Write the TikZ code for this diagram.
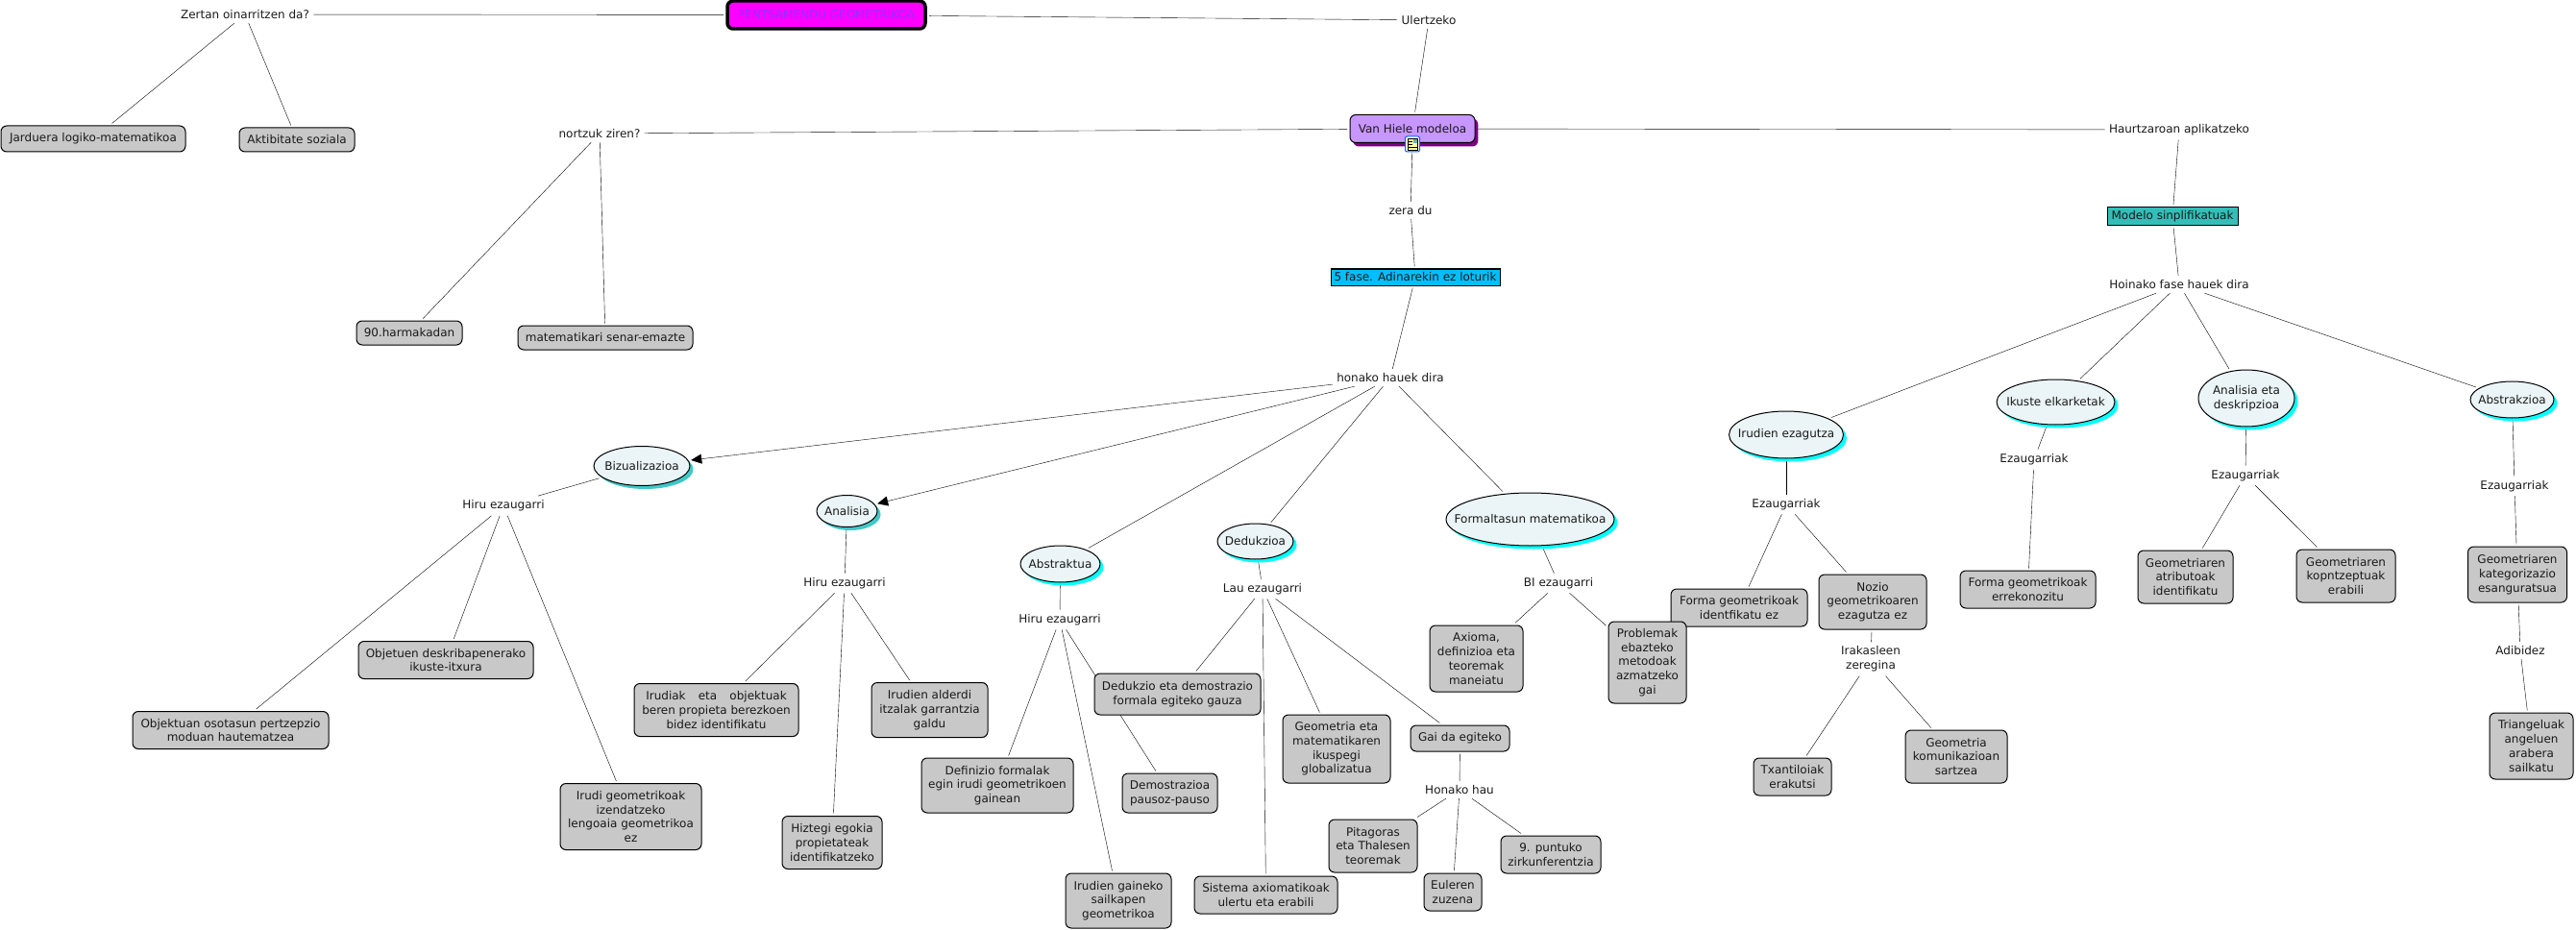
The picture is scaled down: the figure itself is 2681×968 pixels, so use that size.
\documentclass[tikz,border=0pt]{standalone}
\usepackage{fontspec}
\setmainfont{DejaVu Sans}
\usetikzlibrary{shapes.geometric,shadows,backgrounds,arrows.meta}
\definecolor{boxgrey}{HTML}{C8C8C8}
\definecolor{ovalfill}{HTML}{EBF4F6}
\definecolor{mainfill}{HTML}{FF00FF}
\definecolor{vhfill}{HTML}{C896FF}
\definecolor{vhshadow}{HTML}{7B0080}
\definecolor{maintext}{HTML}{8A33FF}
\definecolor{fasefill}{HTML}{00BFFF}
\definecolor{modelofill}{HTML}{33BFB8}
\definecolor{softcyan}{HTML}{40C8C8}
\definecolor{brightcyan}{HTML}{00FFFF}
\tikzset{
  every node/.style={font=\fontsize{12}{14.7}\selectfont,align=center,text=black!90},
  concept/.style={draw=black,line width=1pt,fill=boxgrey,rounded corners=6pt,inner sep=0pt,outer sep=2.5pt},
  link/.style={inner sep=3pt,outer sep=1.5pt,fill=none},
  oval/.style={ellipse,draw=black,line width=1pt,fill=ovalfill,inner xsep=-25pt,inner ysep=0pt,outer sep=3pt,
    general shadow={fill=brightcyan,shadow xshift=3.5pt,shadow yshift=-3.5pt}},
  softoval/.style={ellipse,draw=black,line width=1pt,fill=ovalfill,inner xsep=-25pt,inner ysep=0pt,outer sep=3pt,
    general shadow={fill=softcyan,shadow xshift=3.5pt,shadow yshift=-3.5pt}},
  flatbox/.style={draw=black,line width=1pt,inner sep=0pt,outer sep=2.5pt},
  arrowed/.style={-{Triangle[length=11pt,width=10pt]}}
}
\begin{document}
\begin{tikzpicture}[x=1pt,y=-1pt,line width=1.4pt]
  \useasboundingbox (0,0) rectangle (2681,968);
  % top row
  \node[draw=black,line width=3.5pt,fill=mainfill,rounded corners=6pt,inner sep=0pt,outer sep=4pt,minimum width=206,minimum height=29,text=maintext] (main) at (860,15.5) {PENTSAMENDU GEOMETRIKOA};
  \node[link] (zertan) at (255,15) {Zertan oinarritzen da?};
  \node[link] (ulertzeko) at (1487,21) {Ulertzeko};
  \node[concept,minimum width=192,minimum height=27] (jarduera) at (97,144.5) {Jarduera logiko-matematikoa};
  \node[concept,minimum width=120,minimum height=25] (aktibitate) at (309,145.5) {Aktibitate soziala};
  \node[link] (nortzuk) at (624,139) {nortzuk ziren?};
  \node[concept,minimum width=110,minimum height=25] (harmakada) at (426,346.5) {90.harmakadan};
  \node[concept,minimum width=182,minimum height=25] (senar) at (630,351.5) {matematikari senar-emazte};
  % van hiele
  \node[draw=black,line width=1pt,fill=vhfill,rounded corners=6pt,inner sep=0pt,outer sep=3pt,minimum width=130,minimum height=29,
    general shadow={fill=vhshadow,shadow xshift=3.3pt,shadow yshift=-4pt}] (vanhiele) at (1470,134) {\raisebox{1pt}{Van Hiele modeloa}};
  \node[draw=blue!60!cyan,fill=white,rounded corners=2pt,line width=1pt,minimum width=15,minimum height=16,inner sep=0pt,outer sep=1pt] (icon) at (1470,150) {};
  \fill[yellow!40!white] (1465,144) rectangle (1475,156);
  \fill[blue!50!green!60] (1470.5,144) rectangle (1475,149);
  \draw[line width=.8pt,black] (1465,144) rectangle (1475,156) (1465,147) -- (1470,147) (1465,150) -- (1470,150) (1465,153) -- (1475,153);
  \node[link] (zeradu) at (1468,219) {zera du};
  \node[flatbox,fill=fasefill,minimum width=176,minimum height=17] (fase) at (1473,288.5) {5 fase. Adinarekin ez loturik};
  \node[link] (honako) at (1447,393) {honako hauek dira};
  \node[link] (haurtzaroan) at (2268,135) {Haurtzaroan aplikatzeko};
  \node[flatbox,fill=modelofill,minimum width=136,minimum height=19] (modelo) at (2261,225.5) {Modelo sinplifikatuak};
  \node[link] (hoinako) at (2268,296) {Hoinako fase hauek dira};
  % bizualizazioa
  \node[softoval,minimum width=100,minimum height=41] (bizu) at (668,485) {Bizualizazioa};
  \node[link] (hirua) at (524,526.5) {Hiru ezaugarri};
  \node[concept,minimum width=204,minimum height=39] (objektuan) at (240,760) {Objektuan osotasun pertzepzio\\moduan hautematzea};
  \node[concept,minimum width=182,minimum height=39] (objetuen) at (464,687) {Objetuen deskribapenerako\\ikuste-itxura};
  \node[concept,minimum width=147,minimum height=69] (irudigeo) at (656.5,850) {Irudi geometrikoak\\izendatzeko\\lengoaia geometrikoa\\ez};
  % analisia
  \node[softoval,minimum width=63,minimum height=33] (analisia) at (881.5,532) {Analisia};
  \node[link] (hirub) at (879,607) {Hiru ezaugarri};
  \node[concept,minimum width=171,minimum height=55] (irudiak) at (745.5,739) {Irudiak\hspace{1.1em}eta\hspace{1.1em}objektuak\\beren propieta berezkoen\\bidez identifikatu};
  \node[concept,minimum width=121,minimum height=57] (alderdi) at (967.5,739) {Irudien alderdi\\itzalak garrantzia\\galdu};
  \node[concept,minimum width=104,minimum height=55] (hiztegi) at (866,877) {Hiztegi egokia\\propietateak\\identifikatzeko};
  % abstraktua
  \node[oval,minimum width=83,minimum height=38] (abstraktua) at (1103.5,587) {Abstraktua};
  \node[link] (hiruc) at (1103,645) {Hiru ezaugarri};
  \node[concept,minimum width=158,minimum height=57] (definizio) at (1038,817.5) {Definizio formalak\\egin irudi geometrikoen\\gainean};
  \node[concept,minimum width=99,minimum height=41] (demostrazioa) at (1217.5,825.5) {Demostrazioa\\pausoz-pauso};
  \node[concept,minimum width=110,minimum height=57] (gaineko) at (1164,937.5) {Irudien gaineko\\sailkapen\\geometrikoa};
  % dedukzioa
  \node[oval,minimum width=79,minimum height=37] (dedukzioa) at (1306.5,563.5) {Dedukzioa};
  \node[link] (lau) at (1314,613) {Lau ezaugarri};
  \node[concept,minimum width=173,minimum height=43] (dedukzio) at (1225.5,722.5) {Dedukzio eta demostrazio\\formala egiteko gauza};
  \node[concept,minimum width=149,minimum height=39] (sistema) at (1317.5,931.5) {Sistema axiomatikoak\\ulertu eta erabili};
  \node[concept,minimum width=112,minimum height=71] (globala) at (1391,779.5) {Geometria eta\\matematikaren\\ikuspegi\\globalizatua};
  \node[concept,minimum width=103,minimum height=27] (gaida) at (1519.5,768.5) {Gai da egiteko};
  \node[link] (honakohau) at (1519,822) {Honako hau};
  \node[concept,minimum width=92,minimum height=55] (pitagoras) at (1429,880.5) {Pitagoras\\eta Thalesen\\teoremak};
  \node[concept,minimum width=60,minimum height=39] (euleren) at (1512,928.5) {Euleren\\zuzena};
  \node[concept,minimum width=104,minimum height=39] (puntuko) at (1614,889.5) {9. puntuko\\zirkunferentzia};
  % formaltasun
  \node[oval,minimum width=175,minimum height=55] (formal) at (1592.5,540.5) {Formaltasun matematikoa};
  \node[link] (bi) at (1622,607) {BI ezaugarri};
  \node[concept,minimum width=97,minimum height=69] (axioma) at (1536.5,685.5) {Axioma,\\definizioa eta\\teoremak\\maneiatu};
  % fase row right
  \node[oval,minimum width=119,minimum height=49] (irudien) at (1859,452.5) {Irudien ezagutza};
  \node[link] (ezauga) at (1859,525) {Ezaugarriak};
  \node[concept,minimum width=142,minimum height=39] (formaez) at (1810,632.5) {Forma geometrikoak\\identfikatu ez};
  \node[concept,minimum width=81,minimum height=85] (problemak) at (1714.5,689.5) {Problemak\\ebazteko\\metodoak\\azmatzeko\\gai};
  \node[concept,minimum width=112,minimum height=57] (nozio) at (1949,626.5) {Nozio\\geometrikoaren\\ezagutza ez};
  \node[link] (irakasle) at (1947,686) {Irakasleen\\zeregina};
  \node[concept,minimum width=81,minimum height=39] (txantiloi) at (1865.5,808.5) {Txantiloiak\\erakutsi};
  \node[concept,minimum width=106,minimum height=55] (komunikazio) at (2036,787.5) {Geometria\\komunikazioan\\sartzea};
  \node[oval,minimum width=123,minimum height=47] (ikuste) at (2139.5,418.5) {Ikuste elkarketak};
  \node[link] (ezaugb) at (2117,478) {Ezaugarriak};
  \node[concept,minimum width=141,minimum height=39] (errekono) at (2110.5,613.5) {Forma geometrikoak\\errekonozitu};
  \node[oval,minimum width=100,minimum height=59] (analisiad) at (2338,414.5) {Analisia eta\\deskripzioa};
  \node[link] (ezaugc) at (2337,495) {Ezaugarriak};
  \node[concept,minimum width=99,minimum height=55] (atributo) at (2274.5,600.5) {Geometriaren\\atributoak\\identifikatu};
  \node[concept,minimum width=103,minimum height=55] (kontzeptu) at (2441.5,599.5) {Geometriaren\\kopntzeptuak\\erabili};
  \node[oval,minimum width=87,minimum height=38] (abstrakzioa) at (2614.5,416) {Abstrakzioa};
  \node[link] (ezaugd) at (2617,506) {Ezaugarriak};
  \node[concept,minimum width=103,minimum height=58] (kategoria) at (2620,598) {Geometriaren\\kategorizazio\\esanguratsua};
  \node[link] (adibidez) at (2623,677) {Adibidez};
  \node[concept,minimum width=87,minimum height=69] (triangelu) at (2634.5,776.5) {Triangeluak\\angeluen\\arabera\\sailkatu};
  % connectors
  \begin{scope}[on background layer]
    \draw (main) to (zertan);
    \draw (zertan) to (jarduera);
    \draw (zertan) to (aktibitate);
    \draw (main) to (ulertzeko);
    \draw (ulertzeko) to (vanhiele);
    \draw (vanhiele) to (nortzuk);
    \draw (nortzuk) to (harmakada);
    \draw (nortzuk) to (senar);
    \draw (vanhiele) to (haurtzaroan);
    \draw (haurtzaroan) to (modelo);
    \draw (modelo) to (hoinako);
    \draw (icon) to (zeradu);
    \draw (zeradu) to (fase);
    \draw (fase) to (honako);
    \draw[arrowed] (honako) to (bizu);
    \draw[arrowed] (honako) to (analisia);
    \draw (honako) to (abstraktua);
    \draw (honako) to (dedukzioa);
    \draw (honako) to (formal);
    \draw (bizu) to (hirua);
    \draw (hirua) to (objektuan);
    \draw (hirua) to (objetuen);
    \draw (hirua) to (irudigeo);
    \draw (analisia) to (hirub);
    \draw (hirub) to (irudiak);
    \draw (hirub) to (hiztegi);
    \draw (hirub) to (alderdi);
    \draw (abstraktua) to (hiruc);
    \draw (hiruc) to (definizio);
    \draw (hiruc) to (gaineko);
    \draw (hiruc) to (demostrazioa);
    \draw (dedukzioa) to (lau);
    \draw (lau) to (dedukzio);
    \draw (lau) to (sistema);
    \draw (lau) to (globala);
    \draw (lau) to (gaida);
    \draw (gaida) to (honakohau);
    \draw (honakohau) to (pitagoras);
    \draw (honakohau) to (euleren);
    \draw (honakohau) to (puntuko);
    \draw (formal) to (bi);
    \draw (bi) to (axioma);
    \draw (bi) to (problemak);
    \draw (hoinako) to (irudien);
    \draw (hoinako) to (ikuste);
    \draw (hoinako) to (analisiad);
    \draw (hoinako) to (abstrakzioa);
    \draw (irudien) to (ezauga);
    \draw (ezauga) to (formaez);
    \draw (ezauga) to (nozio);
    \draw (nozio) to (irakasle);
    \draw (irakasle) to (txantiloi);
    \draw (irakasle) to (komunikazio);
    \draw (ikuste) to (ezaugb);
    \draw (ezaugb) to (errekono);
    \draw (analisiad) to (ezaugc);
    \draw (ezaugc) to (atributo);
    \draw (ezaugc) to (kontzeptu);
    \draw (abstrakzioa) to (ezaugd);
    \draw (ezaugd) to (kategoria);
    \draw (kategoria) to (adibidez);
    \draw (adibidez) to (triangelu);
  \end{scope}
\end{tikzpicture}
\end{document}
